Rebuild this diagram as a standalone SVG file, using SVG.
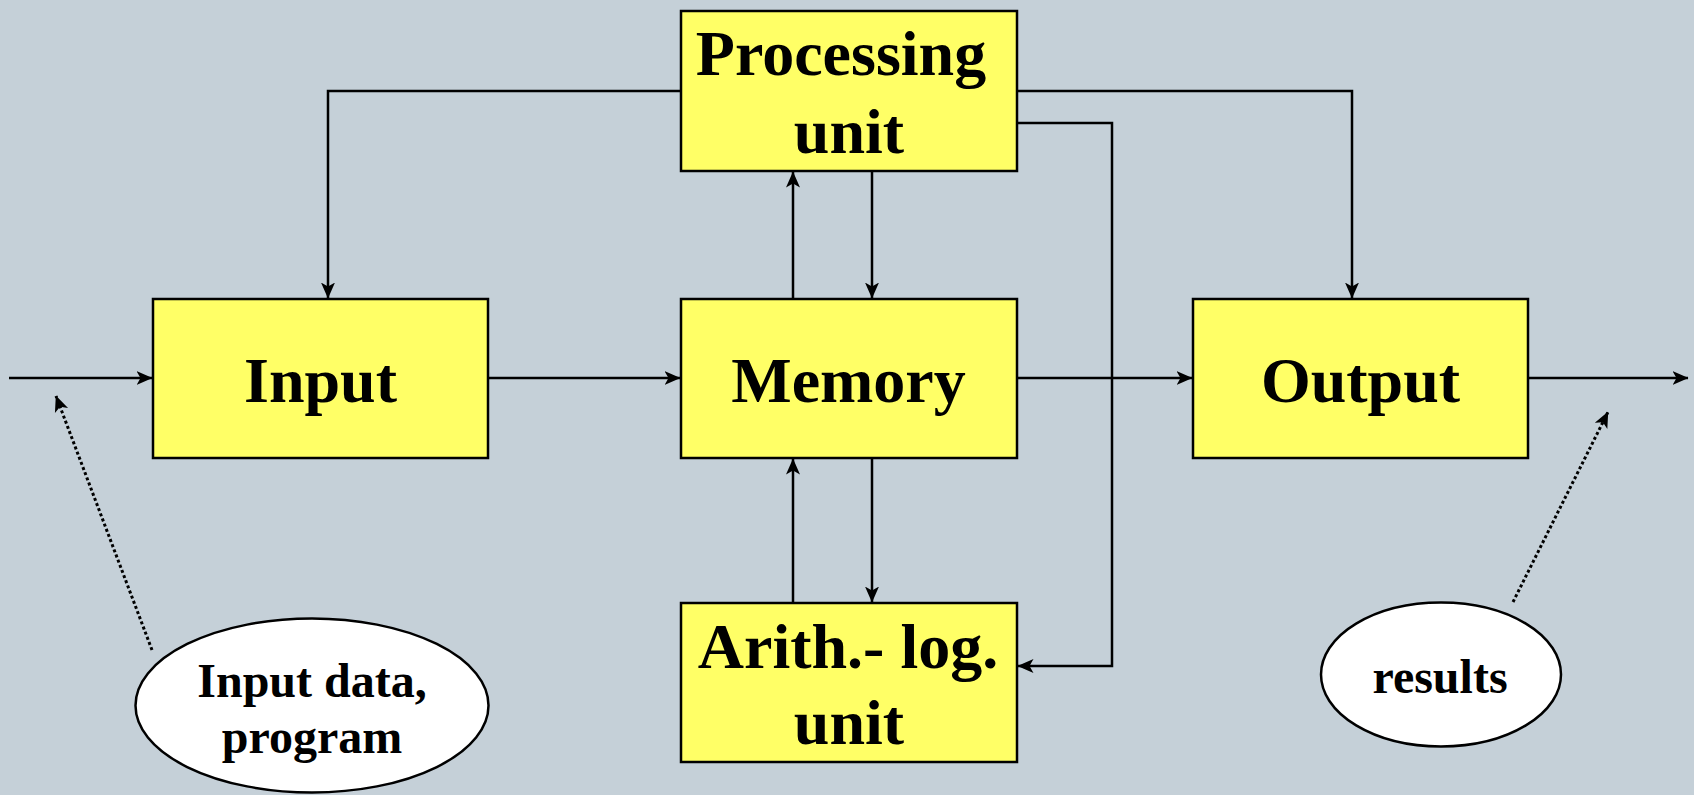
<svg xmlns="http://www.w3.org/2000/svg" width="1694" height="795" viewBox="0 0 1694 795">
<style>
.bg{fill:#c5d0d8}
.box{fill:#ffff66;stroke:#000;stroke-width:2.5}
.oval{fill:#fff;stroke:#000;stroke-width:2.5}
.t{font-family:"Liberation Serif","Times New Roman",serif;font-weight:bold;fill:#000;text-anchor:middle}
.big{font-size:64px}
.small{font-size:48px}
.ln{fill:none;stroke:#000;stroke-width:2.5}
.dot{fill:none;stroke:#000;stroke-width:3;stroke-dasharray:3 2.5}
</style>
<defs>
<marker id="ah" markerUnits="userSpaceOnUse" markerWidth="16" markerHeight="16" viewBox="0 0 16 16" refX="15.5" refY="8" orient="auto">
<path d="M0,1 L16,8 L0,15 L4,8 z" fill="#000"/>
</marker>
</defs>
<rect class="bg" x="0" y="0" width="1694" height="795"/>
<g id="connectors">
<path class="ln" d="M9,378 L152,378" marker-end="url(#ah)"/>
<path class="ln" d="M488,378 L680,378" marker-end="url(#ah)"/>
<path class="ln" d="M1017,378 L1192,378" marker-end="url(#ah)"/>
<path class="ln" d="M1528,378 L1688,378" marker-end="url(#ah)"/>
<path class="ln" d="M680,91 L328,91 L328,298" marker-end="url(#ah)"/>
<path class="ln" d="M1017,91 L1352,91 L1352,298" marker-end="url(#ah)"/>
<path class="ln" d="M1017,123 L1112,123 L1112,666 L1018,666" marker-end="url(#ah)"/>
<path class="ln" d="M793,299 L793,172" marker-end="url(#ah)"/>
<path class="ln" d="M872,171 L872,298" marker-end="url(#ah)"/>
<path class="ln" d="M793,603 L793,459" marker-end="url(#ah)"/>
<path class="ln" d="M872,458 L872,602" marker-end="url(#ah)"/>
<path class="dot" d="M152,650 L56,396" marker-end="url(#ah)"/>
<path class="dot" d="M1513,602 L1608,412" marker-end="url(#ah)"/>
</g>
<g id="processing">
<rect class="box" x="681" y="11" width="336" height="160"/>
<text class="t big" x="841" y="75">Processing</text>
<text class="t big" x="849" y="153">unit</text>
</g>
<g id="input">
<rect class="box" x="153" y="299" width="335" height="159"/>
<text class="t big" x="320.5" y="402">Input</text>
</g>
<g id="memory">
<rect class="box" x="681" y="299" width="336" height="159"/>
<text class="t big" x="848.5" y="402">Memory</text>
</g>
<g id="output">
<rect class="box" x="1193" y="299" width="335" height="159"/>
<text class="t big" x="1360.5" y="402">Output</text>
</g>
<g id="alu">
<rect class="box" x="681" y="603" width="336" height="159"/>
<text class="t big" x="848" y="668">Arith.- log.</text>
<text class="t big" x="849" y="744">unit</text>
</g>
<g id="input-data">
<ellipse class="oval" cx="312" cy="705.5" rx="176.5" ry="87"/>
<text class="t small" x="312" y="697">Input data,</text>
<text class="t small" x="312" y="753">program</text>
</g>
<g id="results">
<ellipse class="oval" cx="1441" cy="674.5" rx="120" ry="72"/>
<text class="t small" x="1440" y="693">results</text>
</g>
</svg>
